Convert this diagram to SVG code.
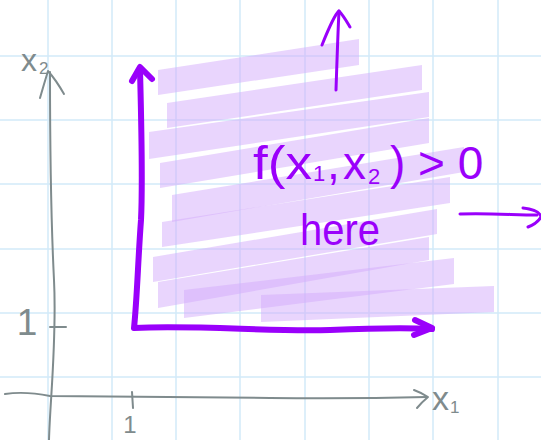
<svg xmlns="http://www.w3.org/2000/svg" width="541" height="440" viewBox="0 0 541 440">
<style>
.grid line{stroke:#d2eaf8;stroke-width:1.5}
.band{fill:#d3abfb;fill-opacity:0.5}
.gray{fill:none;stroke:#7f8b8d;stroke-width:2;stroke-linecap:round;stroke-linejoin:round}
.gt{fill:#7f8b8d;font-family:"Liberation Sans",Arial,sans-serif}
.pthick{fill:none;stroke:#9a00fb;stroke-width:6;stroke-linecap:round;stroke-linejoin:round}
.pthin{fill:none;stroke:#9a00fb;stroke-width:3;stroke-linecap:round;stroke-linejoin:round}
.pt{fill:#9a00fb;font-family:"Liberation Sans",Arial,sans-serif}
</style>
<rect width="541" height="440" fill="#ffffff"/>
<g id="grid" class="grid">
<line x1="48" y1="0" x2="48" y2="440"/>
<line x1="112" y1="0" x2="112" y2="440"/>
<line x1="176" y1="0" x2="176" y2="440"/>
<line x1="240" y1="0" x2="240" y2="440"/>
<line x1="305" y1="0" x2="305" y2="440"/>
<line x1="369" y1="0" x2="369" y2="440"/>
<line x1="433" y1="0" x2="433" y2="440"/>
<line x1="498" y1="0" x2="498" y2="440"/>
<line x1="0" y1="56" x2="541" y2="56"/>
<line x1="0" y1="120" x2="541" y2="120"/>
<line x1="0" y1="184" x2="541" y2="184"/>
<line x1="0" y1="249" x2="541" y2="249"/>
<line x1="0" y1="313" x2="541" y2="313"/>
<line x1="0" y1="377" x2="541" y2="377"/>
</g>
<g id="shading">
<polygon class="band" points="158,70 359,39 359,65 158,95"/>
<polygon class="band" points="167,103 422,65 422,90 167,128"/>
<polygon class="band" points="149,132 429,92 429,117 149,159"/>
<polygon class="band" points="160,163 429,118 429,143 160,188"/>
<polygon class="band" points="172,195 464,147 464,172 172,222"/>
<polygon class="band" points="162,222 450,177 450,203 162,247"/>
<polygon class="band" points="153,257 437,209 437,234 153,282"/>
<polygon class="band" points="158,282 429,237 429,260 158,308"/>
<polygon class="band" points="184,290 454,258 454,284 184,318"/>
<polygon class="band" points="261,295 494,286 494,312 261,322"/>
</g>
<g id="axes">
<path class="gray" d="M49,440 C50,400 57,340 54,280 S50,150 50,72"/>
<path class="gray" d="M40,98 Q44,84 48,71 Q56,80 64,94"/>
<path class="gray" d="M5,394 Q25,391 50,396 L270,398 Q350,399 427,397"/>
<path class="gray" d="M414,390 Q422,393 428,397 Q422,402 417,408"/>
<path class="gray" d="M50,327 L66,327"/>
<path class="gray" d="M132,392 L133,408"/>
<text class="gt" x="21" y="71" font-size="32">x<tspan x="39" y="74" font-size="17">2</tspan></text>
<text class="gt" x="432" y="410" font-size="34">x<tspan x="450" y="413" font-size="17">1</tspan></text>
<text class="gt" x="27" y="335" font-size="37" text-anchor="middle">1</text>
<text class="gt" x="130" y="433" font-size="24" text-anchor="middle">1</text>
</g>
<g id="connectors">
<path class="pthick" d="M140,70 C141,110 143,180 141,220 C138,260 137,300 134,328 C200,325 270,332 330,330 C380,328 410,328 432,329"/>
<path class="pthick" d="M132,81 L140,67 L152,79"/>
<path class="pthick" d="M415,320 L432,328 L414,335"/>
<path class="pthin" d="M336,90 C337,60 338,30 339,11"/>
<path class="pthin" d="M322,45 C328,30 334,15 339,11 C343,15 347,22 350,27"/>
<path class="pthin" d="M460,214 C490,213 515,215 537,215"/>
<path class="pthin" d="M523,208 C532,209 540,212 541,217 C538,222 533,225 528,227"/>
</g>
<g id="label">
<text class="pt" y="179" font-size="46"><tspan x="253" textLength="59" lengthAdjust="spacingAndGlyphs">f(x</tspan><tspan x="313" y="181" font-size="22">1</tspan><tspan x="327" y="179">,</tspan><tspan x="343">x</tspan><tspan x="368" y="184" font-size="22">2</tspan><tspan x="390" y="179">) &gt; 0</tspan></text>
<text class="pt" x="300" y="245" font-size="44" textLength="80" lengthAdjust="spacingAndGlyphs">here</text>
</g>
</svg>
